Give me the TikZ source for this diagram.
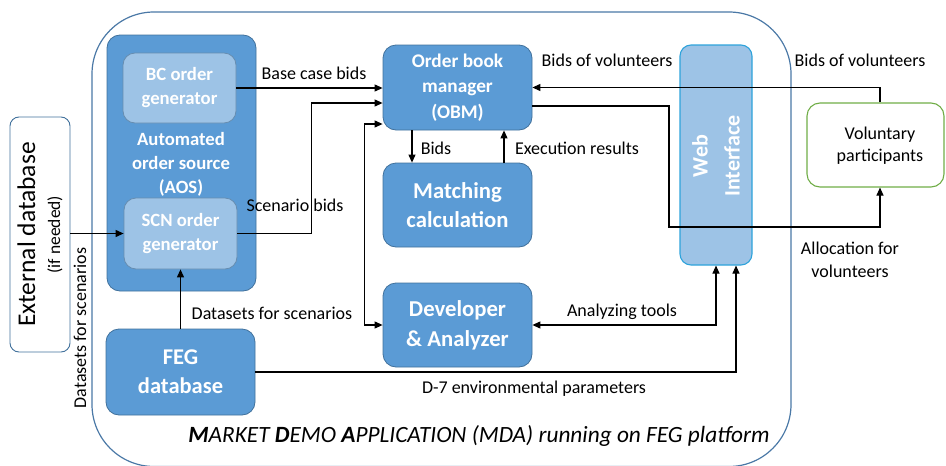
\documentclass[tikz,border=0pt]{standalone}
\usepackage{fontspec}
\setmainfont{Carlito}
\usetikzlibrary{arrows.meta}
\definecolor{mblue}{HTML}{5B9BD5}
\definecolor{dblue}{HTML}{41719C}
\definecolor{lblue}{HTML}{9DC3E6}
\definecolor{cblue}{HTML}{2EA3DB}
\definecolor{gborder}{HTML}{70AD47}
\definecolor{outerc}{HTML}{4A78A6}
\tikzset{
  bluebox/.style={draw=dblue, line width=0.8pt, fill=mblue, rounded corners=13pt, text=white, align=center, inner sep=0pt},
  lightbox/.style={draw=dblue!80, line width=0.8pt, fill=lblue, rounded corners=12pt, text=white, align=center, inner sep=0pt},
  lbl/.style={font=\fontsize{18}{23}\selectfont, align=center, inner sep=0pt},
  conn/.style={line width=1.1pt, -{Triangle[length=8pt,width=7pt]}},
  conn2/.style={line width=1.1pt, {Triangle[length=8pt,width=7pt]}-{Triangle[length=8pt,width=7pt]}},
  plain/.style={line width=1.1pt}
}
\begin{document}
\begin{tikzpicture}[x=1pt,y=-1pt]
\useasboundingbox (0,0) rectangle (946,466);
% outer MDA frame
\draw[outerc, line width=1.2pt, rounded corners=62pt] (92,12) rectangle (791,466.5);
% external database
\node[draw=dblue, line width=0.9pt, rounded corners=9pt, rotate=90, minimum width=235pt, minimum height=60pt, align=center, inner sep=0pt, font=\fontsize{25.5}{25}\selectfont] (ext) at (40,234.5)
  {External database\\{\fontsize{17.5}{19}\selectfont (if needed)}};
\node[lbl, rotate=90] (dsv) at (80,328) {Datasets for scenarios};
% AOS
\node[bluebox, minimum width=149pt, minimum height=256pt] (aos) at (181.5,163) {};
\node[text=white, font=\bfseries\fontsize{18.7}{24}\selectfont, align=center, inner sep=0pt] (aosl) at (181,164) {Automated\\order source\\(AOS)};
\node[lightbox, minimum width=113pt, minimum height=70pt, font=\bfseries\fontsize{18.7}{24}\selectfont] (bc) at (179.5,88) {BC order\\generator};
\node[lightbox, minimum width=113pt, minimum height=71pt, font=\bfseries\fontsize{18.7}{24}\selectfont] (scn) at (180.5,233.5) {SCN order\\generator};
% FEG
\node[bluebox, minimum width=149pt, minimum height=86pt, font=\bfseries\fontsize{22.5}{29}\selectfont] (feg) at (180.5,372) {FEG\\database};
% OBM
\node[bluebox, minimum width=149pt, minimum height=85pt, font=\bfseries\fontsize{19.3}{25.5}\selectfont] (obm) at (457.5,87.5) {Order book\\manager\\(OBM)};
\node[bluebox, minimum width=149pt, minimum height=84pt, font=\bfseries\fontsize{22.7}{29}\selectfont] (mat) at (457.5,205) {Matching\\calculation};
\node[bluebox, minimum width=149pt, minimum height=84pt, font=\bfseries\fontsize{22.7}{30}\selectfont] (dev) at (457.5,325) {Developer\\\& Analyzer};
% Web interface
\node[draw=cblue, line width=1.1pt, fill=lblue, rounded corners=11pt, minimum width=72pt, minimum height=220pt, inner sep=0pt] (web) at (716,155) {};
\node[rotate=90, text=white, font=\bfseries\fontsize{22}{32}\selectfont, align=center, inner sep=0pt] (webl) at (716,156) {Web\\Interface};
% Voluntary participants
\node[draw=gborder, line width=1.1pt, rounded corners=13pt, minimum width=137pt, minimum height=84pt, inner sep=0pt] (vol) at (875.5,145) {};
\node[lbl, font=\fontsize{18}{22}\selectfont] (voll) at (880,146) {Voluntary\\participants};
% coordinates
\coordinate (ta) at (669,227);
% connectors
\draw[conn] (bc.east) -- (bc.east -| obm.west);
\draw[conn] (scn.east) -- ++(74pt,0) |- ([yshift=-15.5pt]obm.west);
\draw[conn2] ([yshift=-36.5pt]obm.west) -- ++(-18pt,0) |- (dev.west);
\draw[conn] ([xshift=-45.5pt]obm.south) -- ([xshift=-45.5pt]mat.north);
\draw[conn] ([xshift=46.5pt]mat.north) -- ([xshift=46.5pt]obm.south);
\draw[conn] ([xshift=4.5pt]vol.north) |- (obm.east);
\draw[conn] ([yshift=-18.5pt]obm.east) -| (ta) -| ([xshift=4.5pt]vol.south);
\draw[conn2] (dev.east) -| (web.south);
\draw[conn] (feg.east) -| ([xshift=20pt]web.south);
\draw[conn] (feg.north) -- (scn.south);
\draw[conn] (ext.south |- scn.west) -- (scn.west);
% labels
\node[lbl] (l1) at (314,73) {Base case bids};
\node[lbl] (l2) at (295,205) {Scenario bids};
\node[lbl] (l3) at (436,148) {Bids};
\node[lbl] (l4) at (577,148) {Execution results};
\node[lbl] (l5) at (607,60) {Bids of volunteers};
\node[lbl] (l6) at (860,60) {Bids of volunteers};
\node[lbl, font=\fontsize{18}{23}\selectfont] (l7) at (850,260) {Allocation for\\volunteers};
\node[lbl] (l8) at (622,312) {Analyzing tools};
\node[lbl] (l9) at (534,389) {D-7 environmental parameters};
\node[lbl] (l10) at (272,313) {Datasets for scenarios};
\node[inner sep=0pt, font=\itshape\fontsize{23.3}{26}\selectfont] (mda) at (479,436) {\textbf{M}ARKET \textbf{D}EMO \textbf{A}PPLICATION (MDA) running on FEG platform};
\end{tikzpicture}
\end{document}
